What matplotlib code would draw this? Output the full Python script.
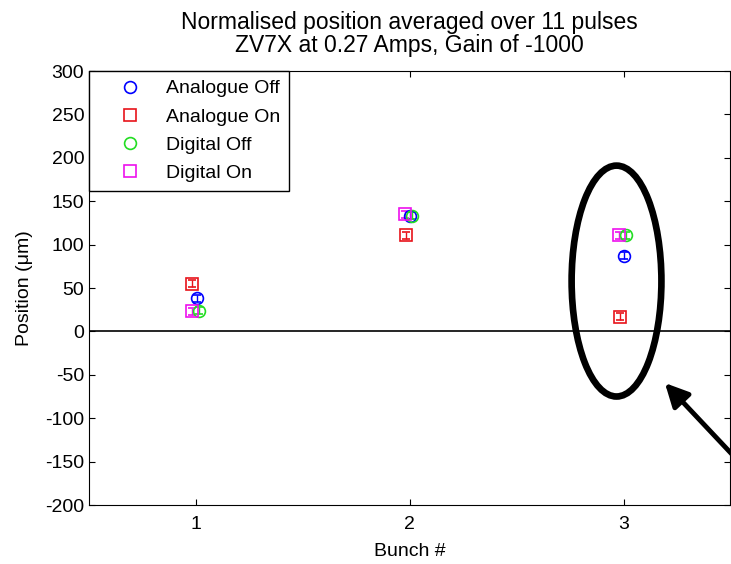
import matplotlib.pyplot as plt
from matplotlib.patches import Ellipse
import numpy as np

plt.rcParams['font.family'] = ['Liberation Sans', 'DejaVu Sans']
plt.rcParams['axes.unicode_minus'] = False

bunch = np.array([1, 2, 3])
labels = ['Analogue Off', 'Analogue On', 'Digital Off', 'Digital On']
analogue_off = [38, 133, 87]
analogue_on = [55, 111, 17]
digital_off = [24, 133, 111]
digital_on = [23, 135, 111]
errs = [4, 4, 4, 4]
offsets = [0.003, -0.018, 0.012, -0.02]
colors = ['blue', '#e8131a', '#22dd22', '#ee11ee']
markers = ['o', 's', 'o', 's']

fig = plt.figure(figsize=(7.31, 5.64), dpi=100)
ax = fig.add_axes([0.1218, 0.1046, 0.8775, 0.7695])

series = [analogue_off, analogue_on, digital_off, digital_on]
for vals, lab, c, m, dx, e in zip(series, labels, colors, markers, offsets, errs):
    ax.errorbar(bunch + dx, vals, yerr=e, fmt=m, mfc='none', mec=c, ecolor=c,
                ms=8.5, mew=1.2, elinewidth=1, capsize=3, label=lab)

ax.axhline(0, color='black', lw=1.2)

ax.set_xlim(0.5, 3.5)
ax.set_ylim(-200, 300)
ax.set_xticks([1, 2, 3])
ax.set_yticks(np.arange(-200, 301, 50))
ax.tick_params(direction='in', top=True, right=True, labelsize=14, length=4)
ax.tick_params(axis='x', pad=8)
ax.set_xlabel('Bunch #', fontsize=14, labelpad=7)
ax.set_ylabel('Position (\u03bcm)', fontsize=14, labelpad=9)
ax.set_title('Normalised position averaged over 11 pulses\nZV7X at 0.27 Amps, Gain of -1000',
             fontsize=16.5, pad=14, linespacing=1.0)

handles, labs = ax.get_legend_handles_labels()
handles = [h[0] for h in handles]
leg = ax.legend(handles, labs, loc='upper left', bbox_to_anchor=(0, 1), borderaxespad=0,
                fontsize=14, fancybox=False, edgecolor='black', framealpha=1,
                handlelength=3.3, handletextpad=0.2, labelspacing=0.55, borderpad=0.45)
leg.get_frame().set_linewidth(1)

# hand-drawn highlight
ax.add_patch(Ellipse((2.967, 58), 0.42, 266, fill=False, ec='black', lw=4.8, clip_on=False))
ax.annotate('', xy=(663, 183), xytext=(760, 80), xycoords='figure pixels',
            textcoords='figure pixels',
            arrowprops=dict(arrowstyle='-|>,head_length=1.4,head_width=0.7', lw=3.5, color='black'))

fig.savefig('out.png', dpi=100)
